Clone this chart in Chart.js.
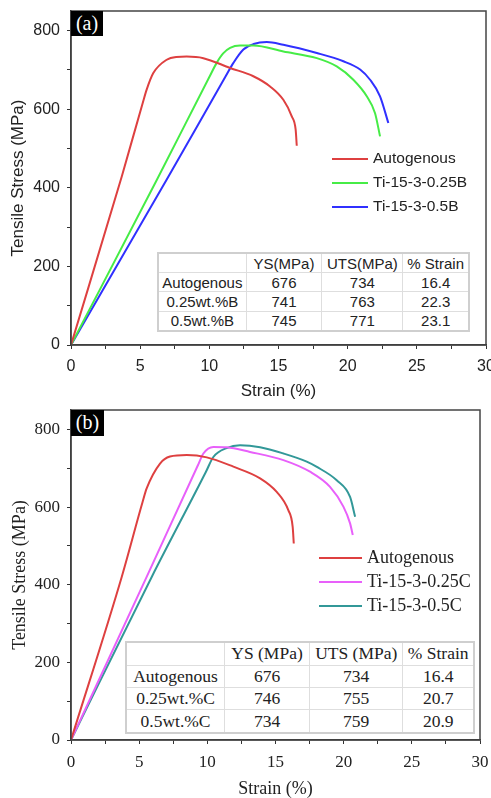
<!DOCTYPE html>
<html>
<head>
<meta charset="utf-8">
<script src="https://cdn.jsdelivr.net/npm/chart.js@4.4.1/dist/chart.umd.min.js"></script>
<style>
body { margin: 0; background: #fff; width: 491px; height: 798px; position: relative; overflow: hidden; }
.pane { position: absolute; left: 0; width: 491px; height: 400px; }
.pane canvas { position: absolute; left: 0; top: 0; }
.tag { position: absolute; background: #000; color: #fff; font: 20px "Liberation Serif"; text-align: center; line-height: 25px; }
table.stats { position: absolute; border-collapse: collapse; background: #fff; color: #222; border: 2px solid #cfcfcf; }
table.stats td { border: 1px solid #dedede; text-align: center; padding: 0; white-space: nowrap; }
</style>
</head>
<body>
<div class="pane" style="top:0"><canvas id="chartA" width="491" height="400"></canvas></div>
<div class="pane" style="top:398px"><canvas id="chartB" width="491" height="400"></canvas></div>
<div class="tag" style="left:71px;top:11px;width:32px;height:25px">(a)</div>
<div class="tag" style="left:71px;top:410px;width:33px;height:26px">(b)</div>
<table class="stats" id="tableA" style="left:157px;top:252px;width:313px;height:80px;font:15px 'Liberation Sans'"></table>
<table class="stats" id="tableB" style="left:125px;top:641px;width:350px;height:93px;font:17.5px 'Liberation Serif'"></table>

<script>
// panel (a) - boron additions
const autoA_x = [0, 3.67, 5.2, 5.47, 5.95, 6.92, 7.6, 8.36, 9.57, 11.5, 13.18, 14.39, 15.35, 15.96, 16.24, 16.32];
const autoA_y = [0, 429, 618, 650, 692, 726, 733, 734, 730, 705, 684, 658, 624, 582, 548, 507];
const b025_x = [0, 6.2, 10.0, 10.53, 11.0, 11.5, 12.22, 13.18, 15.35, 17.77, 19.21, 20.41, 21.38, 21.98, 22.34];
const b025_y = [0, 420, 682, 718, 742, 756, 762, 762, 747, 730, 709, 675, 633, 590, 531];
const b05_x = [0, 6.9, 11.2, 11.74, 12.46, 13.2, 14.15, 15.35, 17.77, 19.69, 20.9, 21.62, 22.34, 22.94];
const b05_y = [0, 420, 685, 718, 752, 766, 771, 764, 743, 722, 701, 675, 633, 565];

// panel (b) - carbon additions
const autoB_x = [0, 3.72, 5.25, 5.55, 6.53, 7.26, 8.49, 9.96, 11.91, 13.87, 15.09, 15.94, 16.26, 16.34];
const autoB_y = [0, 420, 613, 648, 712, 730, 734, 728, 704, 674, 639, 592, 549, 506];
const c025_x = [0, 5.55, 9.3, 9.71, 10.44, 11.42, 13.13, 15.58, 17.53, 19.0, 19.98, 20.47, 20.67];
const c025_y = [0, 420, 707, 738, 755, 754, 742, 721, 691, 652, 601, 558, 528];
const c05_x = [0, 5.92, 9.9, 10.44, 11.42, 12.4, 13.87, 15.58, 17.29, 18.0, 19.49, 20.47, 20.84];
const c05_y = [0, 420, 691, 729, 752, 759, 754, 738, 717, 704, 669, 626, 575];

const labelsA = ['Autogenous', 'Ti-15-3-0.25B', 'Ti-15-3-0.5B'];
const labelsB = ['Autogenous', 'Ti-15-3-0.25C', 'Ti-15-3-0.5C'];

// inset tables
const tableHead = ['YS(MPa)', 'UTS(MPa)', '% Strain'];
const tableHeadB = ['YS (MPa)', 'UTS (MPa)', '% Strain'];
const rowsA = ['Autogenous', '0.25wt.%B', '0.5wt.%B'];
const rowsB = ['Autogenous', '0.25wt.%C', '0.5wt.%C'];
const ysA = [676, 741, 745], utsA = [734, 763, 771], strainA = ['16.4', '22.3', '23.1'];
const ysB = [676, 746, 734], utsB = [734, 755, 759], strainB = ['16.4', '20.7', '20.9'];

const xTicks = [0, 5, 10, 15, 20, 25, 30];
const yTicks = [0, 200, 400, 600, 800];

function pts(xs, ys) {
    return xs.map((x, i) => ({ x: x, y: ys[i] }));
}

function fillTable(id, head, rows, ys, uts, strain, widths) {
    const t = document.getElementById(id);
    let html = '<tr><td style="width:' + widths[0] + 'px"></td>';
    head.forEach((h, i) => { html += '<td style="width:' + widths[i + 1] + 'px">' + h + '</td>'; });
    html += '</tr>';
    rows.forEach((r, i) => {
        html += '<tr><td>' + r + '</td><td>' + ys[i] + '</td><td>' + uts[i] + '</td><td>' + strain[i] + '</td></tr>';
    });
    t.innerHTML = html;
}
fillTable('tableA', tableHead, rowsA, ysA, utsA, strainA, [88, 77, 82, 66]);
fillTable('tableB', tableHeadB, rowsB, ysB, utsB, strainB, [99, 86, 94, 71]);

// frame around the plot + legend inside plot
const frameAndLegend = {
    id: 'frameAndLegend',
    afterDraw(chart, args, opts) {
        const ctx = chart.ctx;
        const a = chart.chartArea;
        ctx.save();
        ctx.strokeStyle = '#444';
        ctx.lineWidth = 1.5;
        ctx.strokeRect(a.left, a.top, a.right - a.left, a.bottom - a.top);
        ctx.font = opts.font;
        ctx.textBaseline = 'middle';
        ctx.fillStyle = '#222';
        chart.data.datasets.forEach((ds, i) => {
            const y = opts.y + i * 24;
            ctx.strokeStyle = ds.borderColor;
            ctx.lineWidth = 2;
            ctx.beginPath();
            ctx.moveTo(opts.x0, y);
            ctx.lineTo(opts.x1, y);
            ctx.stroke();
            ctx.fillText(ds.label, opts.tx, y);
        });
        ctx.restore();
    }
};

function makeChart(id, series, labels, colors, font, pad, boxH, legend, yTitlePad) {
    const ctx = document.getElementById(id).getContext('2d');
    return new Chart(ctx, {
        type: 'scatter',
        data: {
            datasets: series.map((s, i) => ({
                label: labels[i],
                data: pts(s[0], s[1]),
                showLine: true,
                borderColor: colors[i],
                backgroundColor: colors[i],
                borderWidth: 2,
                pointRadius: 0,
                cubicInterpolationMode: 'monotone'
            }))
        },
        options: {
            responsive: false,
            animation: false,
            layout: { padding: pad },
            plugins: {
                legend: { display: false },
                tooltip: { enabled: false },
                frameAndLegend: legend
            },
            scales: {
                x: {
                    type: 'linear',
                    min: 0, max: 30,
                    afterFit: function (scale) { scale.height = boxH; scale.paddingRight = 0; scale.paddingLeft = 0; },
                    grid: { drawOnChartArea: false, tickLength: 4, tickColor: '#333' },
                    border: { color: '#333', width: 1.5 },
                    ticks: {
                        stepSize: 2.5, autoSkip: false, maxRotation: 0, padding: 8,
                        color: '#222', font: { family: font.family, size: font.tick },
                        callback: v => xTicks.includes(v) ? v : ''
                    },
                    title: { display: true, text: 'Strain (%)', color: '#222', padding: 0,
                        font: { family: font.family, size: font.title, lineHeight: 1 } }
                },
                y: {
                    min: 0, max: 850,
                    afterFit: function (scale) { scale.width = 71; scale.paddingTop = 0; scale.paddingBottom = 0; },
                    grid: { drawOnChartArea: false, tickLength: 4, tickColor: '#333' },
                    border: { color: '#333', width: 1.5 },
                    ticks: {
                        stepSize: 100, includeBounds: false, autoSkip: false, padding: 7,
                        color: '#222', font: { family: font.family, size: font.tick },
                        callback: v => yTicks.includes(v) ? v : ''
                    },
                    title: { display: true, text: 'Tensile Stress (MPa)', color: '#222', padding: { top: yTitlePad, bottom: 0 },
                        font: { family: font.family, size: font.title, lineHeight: 1 } }
                }
            }
        },
        plugins: [frameAndLegend]
    });
}

makeChart('chartA',
    [[autoA_x, autoA_y], [b025_x, b025_y], [b05_x, b05_y]],
    labelsA,
    ['rgb(222,64,64)', 'rgb(70,236,70)', 'rgb(48,48,255)'],
    { family: 'Liberation Sans', tick: 16, title: 17 },
    { left: 0, right: 5, top: 11, bottom: 0 },
    55,
    { font: '15.5px "Liberation Sans"', x0: 332, x1: 368, tx: 373, y: 159 },
    9.5);

makeChart('chartB',
    [[autoB_x, autoB_y], [c025_x, c025_y], [c05_x, c05_y]],
    labelsB,
    ['rgb(222,64,64)', 'rgb(232,96,250)', 'rgb(50,152,152)'],
    { family: 'Liberation Serif', tick: 17, title: 18 },
    { left: 0, right: 11, top: 12, bottom: 0 },
    58,
    { font: '18px "Liberation Serif"', x0: 319, x1: 362, tx: 367, y: 160 },
    11);
</script>
</body>
</html>
